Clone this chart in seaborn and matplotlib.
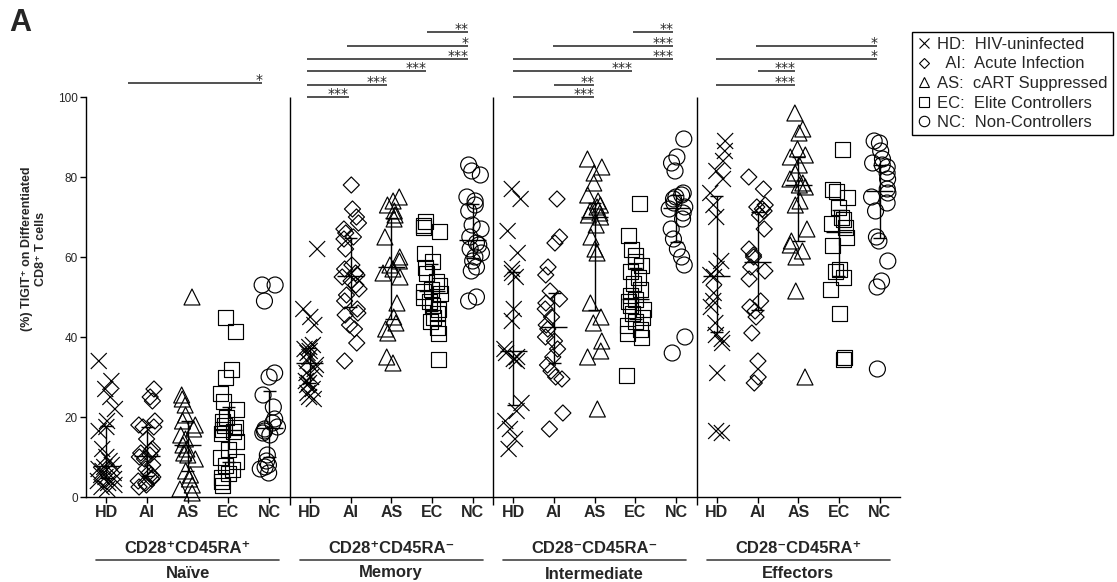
import numpy as np
import pandas as pd
import matplotlib
matplotlib.use("Agg")
import matplotlib.pyplot as plt
from matplotlib.lines import Line2D
import seaborn as sns

# ---- cohorts and T-cell subsets ----
cohorts = ["HD", "AI", "AS", "EC", "NC"]
legend_labels = ["HD:  HIV-uninfected", "  AI:  Acute Infection", "AS:  cART Suppressed",
                 "EC:  Elite Controllers", "NC:  Non-Controllers"]
subsets = ["CD28⁺CD45RA⁺", "CD28⁺CD45RA⁻", "CD28⁻CD45RA⁻", "CD28⁻CD45RA⁺"]
subset_names = ["Naïve", "Memory", "Intermediate", "Effectors"]

# ---- % TIGIT+ per donor ----
naive_hd = [34, 29, 27, 25, 22, 19, 17.5, 16.5, 12, 10, 9, 8, 7.5, 7, 6.5, 6, 5.5, 5, 4.5, 4, 3.5, 3, 2.5, 2]
naive_ai = [27, 25, 24, 19, 18, 17.5, 17.5, 14.5, 12, 11.5, 11, 10.5, 10, 9.5, 8, 7, 6, 5.5, 5, 4.5, 4, 3.5, 3, 2.5]
naive_as = [50, 25.5, 24.5, 23, 20.5, 19, 18, 17, 15.5, 14.5, 13, 12, 11, 10.5, 9.5, 6.5, 5.5, 4.5, 3, 2, 1]
naive_ec = [45, 41.5, 32, 30, 26, 24, 22, 20, 19, 18, 17.5, 17, 16.5, 16, 14, 12, 10, 9, 8, 7, 6, 5, 4, 3]
naive_nc = [53, 53, 49, 31, 30, 25.5, 22.5, 19.5, 18.5, 17.5, 17, 16.5, 16, 15.5, 10.5, 9, 8, 7.5, 7, 6]

memory_hd = [62, 47, 45, 43, 38, 37.5, 37, 36.5, 36, 35, 34, 33, 32, 31, 30, 29, 28.5, 28, 27, 26, 25, 24.5]
memory_ai = [78, 72, 70, 68.5, 67, 66, 65, 64.5, 62, 58, 57, 56, 55.5, 55, 54, 53, 52, 50.5, 49, 47, 46,
             45.5, 43, 42, 38.5, 34]
memory_as = [75, 74, 73, 71.5, 70.5, 69.5, 65, 60, 59, 58, 57, 56, 55, 48.5, 45, 43.5, 42, 41, 35, 33.5]
memory_ec = [69, 68, 67.5, 66.5, 61, 59, 57.5, 56, 54, 53, 52, 51.5, 51, 50, 49, 48, 47, 46, 45, 44, 42.5, 41, 34.5]
memory_nc = [83, 81.5, 80.5, 75, 74, 73, 71.5, 68, 67, 65, 63.5, 63, 62, 61, 60, 59, 57.5, 56.5, 50, 49]

inter_hd = [77, 74.5, 66.5, 61, 57, 56, 55, 47, 44, 37, 36, 35, 34.5, 34, 23.5, 21.5, 19, 17, 14.5, 12]
inter_ai = [74.5, 65, 63.5, 57.5, 55.5, 51.5, 49.5, 48.5, 47, 45, 43, 42, 40, 39, 37, 35, 33, 31.5, 30, 29.5, 21, 17]
inter_as = [84.5, 82.5, 81, 78.5, 75.5, 74, 73, 72.5, 71.5, 71, 70.5, 70, 68, 65, 62, 61, 48.5, 45, 43.5, 39,
            36.5, 35, 22]
inter_ec = [73.5, 65.5, 62, 60.5, 59, 58, 56.5, 55, 53.5, 52, 50.5, 49.5, 49, 48, 47, 46, 45, 44, 43, 42, 41, 40, 30.5]
inter_nc = [89.5, 85, 83.5, 81.5, 76, 75.5, 75, 74.5, 73.5, 72.5, 72, 71, 69.5, 67, 64.5, 62, 60, 58, 40, 36]

eff_hd = [89, 86.5, 84, 81.5, 79.5, 76, 73, 70, 59, 57, 55.5, 55, 51, 49, 47.5, 43.5, 40.5, 39.5, 38.5, 31, 16.5, 16]
eff_ai = [80, 77, 73, 72.5, 72, 71.5, 70.5, 67, 62, 60.5, 60, 57.5, 56.5, 54.5, 49, 47.5, 46.5, 45, 41, 34, 30, 28.5]
eff_as = [96, 92, 91, 87, 85.5, 85, 83, 81, 79.5, 78.5, 78, 77.5, 74, 73, 67, 64, 63, 61.5, 60, 51.5, 30]
eff_ec = [87, 77, 76.5, 75, 72.5, 70, 69.5, 68.5, 67.5, 65, 63, 57, 56.5, 55, 52, 46, 35, 34.5]
eff_nc = [89, 88.5, 86.5, 84.5, 83.5, 83, 82.5, 81, 79.5, 77, 76, 75, 73.5, 71.5, 65, 64, 59, 54, 52.5, 32]

groups = [
    [naive_hd, naive_ai, naive_as, naive_ec, naive_nc],
    [memory_hd, memory_ai, memory_as, memory_ec, memory_nc],
    [inter_hd, inter_ai, inter_as, inter_ec, inter_nc],
    [eff_hd, eff_ai, eff_as, eff_ec, eff_nc],
]

# ---- significance brackets (from, to, height, label) ----
sig_from = [0.54, 7.89, 5.92, 4.94, 4.94, 4.94, 4.94,
            12.95, 10.98, 10.0, 10.0, 11.0, 10.0,
            15.97, 14.99, 16.0, 14.99]
sig_to = [3.83, 8.89, 8.89, 8.89, 7.86, 6.90, 5.95,
          13.93, 13.93, 13.93, 12.92, 11.99, 11.99,
          18.94, 18.94, 16.93, 16.93]
sig_y = [103.5, 116.25, 112.75, 109.5, 106.5, 103, 100,
         116.25, 112.75, 109.5, 106.5, 103, 100,
         112.75, 109.5, 106.5, 103]
sig_text = ["*", "**", "*", "***", "***", "***", "***",
            "**", "***", "***", "***", "**", "***",
            "*", "*", "***", "***"]

# ---- long-form table ----
order = [f"{k}-{c}" for k in range(4) for c in cohorts]
rows = []
for k, subset_vals in enumerate(groups):
    for c, vals in zip(cohorts, subset_vals):
        for v in vals:
            rows.append({"cat": f"{k}-{c}", "cohort": c, "value": v})
df = pd.DataFrame(rows)

sns.set_style("ticks")
plt.rcParams["font.family"] = ["Liberation Sans", "DejaVu Sans"]
plt.rcParams["axes.linewidth"] = 1.0

fig = plt.figure(figsize=(11.17, 5.82), dpi=100)
ax = fig.add_axes([86 / 1117, 1 - 497 / 582, 814 / 1117, 400 / 582])

markers = {"HD": "x", "AI": "D", "AS": "^", "EC": "s", "NC": "o"}
msizes = {"HD": 11.5, "AI": 8.2, "AS": 11.5, "EC": 10.8, "NC": 11.5}

np.random.seed(7)
for c in cohorts:
    n0 = len(ax.collections)
    sns.stripplot(data=df[df["cohort"] == c], x="cat", y="value", order=order,
                  marker=markers[c], size=msizes[c], jitter=0.22, color="black",
                  linewidth=0.8, ax=ax)
    for coll in list(ax.collections[n0:]):
        offs = np.asarray(coll.get_offsets(), dtype=float)
        if offs.size == 0 or not np.isfinite(offs).any():
            coll.remove()
            continue
        coll.set_facecolor("none")
        coll.set_edgecolor("black")
        coll.set_linewidth(0.85)
        coll.set_clip_on(False)

# median with interquartile range
for idx, cat in enumerate(order):
    vals = df.loc[df["cat"] == cat, "value"].to_numpy()
    q1, med, q3 = np.percentile(vals, [25, 50, 75])
    ax.hlines(med, idx - 0.33, idx + 0.33, color="black", lw=1.0, zorder=4)
    ax.vlines(idx, q1, q3, color="black", lw=1.0, zorder=4)
    ax.hlines([q1, q3], idx - 0.16, idx + 0.16, color="black", lw=1.0, zorder=4)

# subset dividers
ax.vlines([4.5, 9.5, 14.5], -2, 100, color="black", lw=1.0, clip_on=False)

ax.set_xlim(-0.5, 19.5)
ax.set_ylim(0, 100)
ax.set_yticks([0, 20, 40, 60, 80, 100])
ax.set_xticks(range(20))
ax.set_xticklabels(cohorts * 4, fontsize=11.5, fontweight="bold")
ax.tick_params(axis="y", labelsize=8.5, length=4, width=1, color="black", pad=2)
ax.tick_params(axis="x", length=4, width=1, color="black", pad=2)
ax.set_xlabel("")
sns.despine(ax=ax)
ax.spines["left"].set_color("black")
ax.spines["bottom"].set_color("black")

ax.set_ylabel("(%) TIGIT⁺ on Differentiated\nCD8⁺ T cells", fontsize=9, fontweight="bold",
              linespacing=1.2)
ax.yaxis.set_label_coords(-0.048, 0.62)

# significance brackets
for x0, x1, y, t in zip(sig_from, sig_to, sig_y, sig_text):
    ax.plot([x0, x1], [y, y], color="#333333", lw=1.2, clip_on=False, solid_capstyle="butt")
    ax.text(x1, y - 0.3, t, ha="right", va="baseline", fontsize=10,
            family=["DejaVu Sans"], clip_on=False)

# subset captions under the axis
for k in range(4):
    cx = 5 * k + 2
    ax.text(cx, -12.8, subsets[k], ha="center", va="center", fontsize=12,
            fontweight="bold", clip_on=False)
    ax.plot([cx - 2.25, cx + 2.25], [-15.8, -15.8], color="#444444", lw=1.2, clip_on=False)
    ax.text(cx, -19.3 if k == 2 else -19.0, subset_names[k], ha="center", va="center",
            fontsize=12, fontweight="bold", clip_on=False)

# legend
handles = [
    Line2D([], [], marker="x", ls="none", color="black", ms=7.5, mew=0.8),
    Line2D([], [], marker="D", ls="none", color="black", mfc="none", ms=5.5, mew=0.8),
    Line2D([], [], marker="^", ls="none", color="black", mfc="none", ms=7.5, mew=0.8),
    Line2D([], [], marker="s", ls="none", color="black", mfc="none", ms=7.0, mew=0.8),
    Line2D([], [], marker="o", ls="none", color="black", mfc="none", ms=7.5, mew=0.8),
]
leg = fig.legend(handles, legend_labels, loc="upper left",
                 bbox_to_anchor=(912 / 1117, 1 - 32 / 582), bbox_transform=fig.transFigure,
                 frameon=True, fancybox=False, edgecolor="black", framealpha=1,
                 fontsize=12, handlelength=0.8, handletextpad=0.4, borderpad=0.3,
                 labelspacing=0.27, borderaxespad=0)
leg.get_frame().set_linewidth(1.0)

fig.text(9 / 1117, 1 - 8 / 582, "A", fontsize=22, fontweight="bold", ha="left", va="top")

fig.savefig("out.png", dpi=100)
